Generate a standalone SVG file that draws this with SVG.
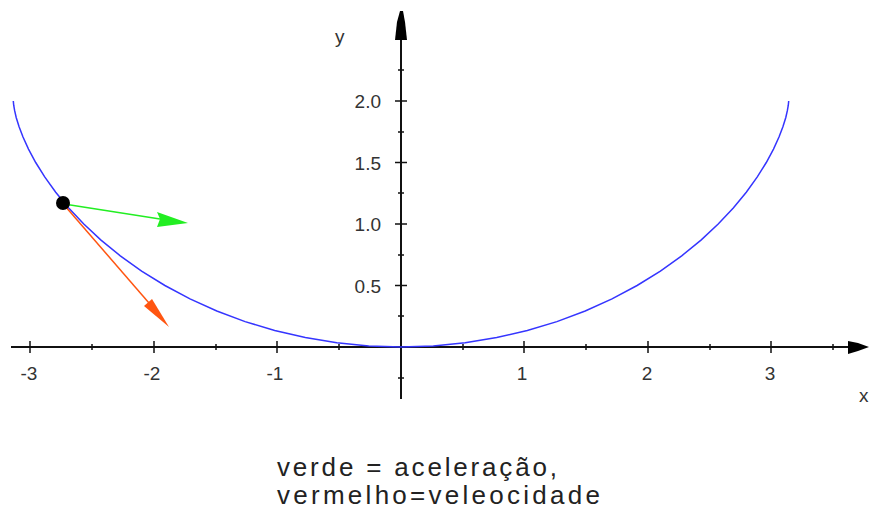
<svg xmlns="http://www.w3.org/2000/svg" width="869" height="516" viewBox="0 0 869 516">
<style>
.ax{stroke:#111;stroke-width:2;fill:none}
.tk{stroke:#111;stroke-width:1.5}
.lb{font-family:"Liberation Sans",Arial,sans-serif;font-size:19px;fill:#333}
.cap{font-family:"Liberation Sans",Arial,sans-serif;font-size:26px;fill:#222}
</style>
<rect width="869" height="516" fill="#fff"/>
<g id="axes">
<line class="ax" x1="11" y1="347" x2="850" y2="347"/>
<polygon points="848,341 858,343 869,347 858,351 848,354" fill="#000"/>
<line class="ax" x1="401" y1="38" x2="401" y2="399"/>
<polygon points="400,11 403,11 405,22 407,40 395,40 397,22" fill="#000"/>
<g class="tk">
<line x1="30" y1="341" x2="30" y2="353"/><line x1="154" y1="341" x2="154" y2="353"/><line x1="277" y1="341" x2="277" y2="353"/>
<line x1="524" y1="341" x2="524" y2="353"/><line x1="648" y1="341" x2="648" y2="353"/><line x1="771" y1="341" x2="771" y2="353"/>
<line x1="92" y1="344" x2="92" y2="350"/><line x1="216" y1="344" x2="216" y2="350"/><line x1="339" y1="344" x2="339" y2="350"/>
<line x1="463" y1="344" x2="463" y2="350"/><line x1="586" y1="344" x2="586" y2="350"/><line x1="710" y1="344" x2="710" y2="350"/><line x1="833" y1="344" x2="833" y2="350"/>
<line x1="395" y1="101" x2="407" y2="101"/><line x1="395" y1="162.5" x2="407" y2="162.5"/><line x1="395" y1="224" x2="407" y2="224"/><line x1="395" y1="285.5" x2="407" y2="285.5"/>
<line x1="398" y1="70" x2="404" y2="70"/><line x1="398" y1="132" x2="404" y2="132"/><line x1="398" y1="193" x2="404" y2="193"/><line x1="398" y1="255" x2="404" y2="255"/><line x1="398" y1="316" x2="404" y2="316"/><line x1="398" y1="378" x2="404" y2="378"/>
</g>
<g class="lb" text-anchor="middle">
<text x="29" y="380">-3</text><text x="152" y="380">-2</text><text x="275" y="380">-1</text>
<text x="522" y="380">1</text><text x="647" y="380">2</text><text x="770" y="380">3</text>
</g>
<g class="lb" text-anchor="end">
<text x="381" y="108">2.0</text><text x="381" y="169.5">1.5</text><text x="381" y="231">1.0</text><text x="381" y="292.5">0.5</text>
</g>
<text class="lb" x="859" y="402">x</text>
<text class="lb" x="335" y="43">y</text>
</g>
<g id="curve">
<path fill="none" stroke="#3535ff" stroke-width="1.5" d="M13.3,101 L13.4,102.1 13.7,105.2 14.6,110.4 16.2,117.5 19,126.4 23,137 28.5,149.1 35.7,162.5 44.7,176.9 55.7,192.2 68.7,207.9 83.8,224 101,240.1 120.3,255.8 141.6,271.1 164.9,285.5 190,298.9 216.8,311 245.1,321.6 274.7,330.5 305.3,337.6 336.8,342.8 368.7,345.9 401,347 433.3,345.9 465.2,342.8 496.7,337.6 527.3,330.5 556.9,321.6 585.2,311 612,298.9 637.1,285.5 660.4,271.1 681.7,255.8 701,240.1 718.2,224 733.3,207.9 746.3,192.2 757.3,176.9 766.3,162.5 773.5,149.1 779,137 783,126.4 785.8,117.5 787.4,110.4 788.3,105.2 788.6,102.1 788.7,101"/>
</g>
<g id="velocity">
<line x1="65" y1="206" x2="149" y2="303" stroke="#ff5511" stroke-width="1.5"/>
<polygon points="152,299 169,327 144,306" fill="#ff5511"/>
</g>
<g id="acceleration">
<line x1="64" y1="204" x2="160" y2="219" stroke="#22ee22" stroke-width="1.5"/>
<polygon points="157,212 188,223 157,227 160,219" fill="#22ee22"/>
</g>
<g id="point">
<circle cx="63" cy="203" r="7" fill="#000"/>
</g>
<g id="caption">
<text class="cap" x="277" y="476" textLength="280" lengthAdjust="spacing">verde = aceleração,</text>
<text class="cap" x="277" y="504" textLength="323" lengthAdjust="spacing">vermelho=veleocidade</text>
</g>
</svg>
